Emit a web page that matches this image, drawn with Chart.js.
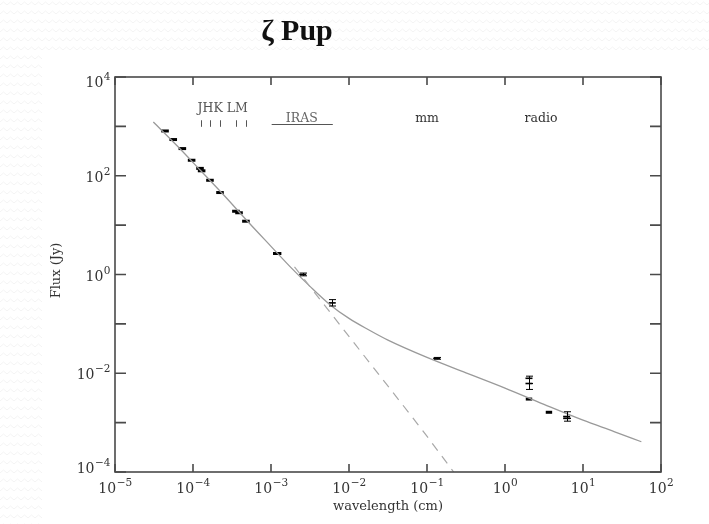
<!DOCTYPE html>
<html>
<head>
<meta charset="utf-8">
<script src="https://cdn.jsdelivr.net/npm/chart.js@4.4.0/dist/chart.umd.min.js"></script>
<style>
  html, body { margin: 0; padding: 0; }
  body {
    width: 709px; height: 524px; overflow: hidden; position: relative;
    background: #fff url("data:image/svg+xml,%3Csvg xmlns='http://www.w3.org/2000/svg' width='14' height='9'%3E%3Cpath d='M0 5 L3.5 2 L7 5 L10.5 2 L14 5' fill='none' stroke='%23f4f4f4' stroke-width='1'/%3E%3C/svg%3E") repeat;
  }
  #paper { position: absolute; left: 42px; top: 50px; right: 0; bottom: 0; background: #fff; }
  #wrap { position: absolute; left: 0; top: 0; width: 709px; height: 524px; }
</style>
</head>
<body>
<div id="paper"></div>
<div id="wrap"><canvas id="sed" width="709" height="524"></canvas></div>
<script>
// broadband photometry, wavelength in cm, flux in Jy
let photWave = [4.38e-5, 5.58e-5, 7.3e-5, 9.6e-5, 1.23e-4, 1.29e-4, 1.65e-4, 2.22e-4, 3.55e-4, 3.89e-4, 4.77e-4, 1.2e-3, 2.03, 3.66];
let photFlux = [807, 541, 355, 206, 141, 126, 81, 45.7, 19.1, 17.8, 12.0, 2.66, 0.0030, 0.00162];
let photSize = [3.8, 3.8, 3.8, 3.8, 3.8, 3.8, 3.8, 3.8, 3.8, 3.8, 3.8, 4.2, 3.2, 3.2];

// points with error bars
let errWave = [2.55e-3, 6.1e-3, 0.133, 2.03, 2.03, 6.17, 6.17];
let errFlux = [1.0, 0.266, 0.020, 0.0079, 0.0062, 0.00133, 0.00122];
let errLow  = [0.94, 0.23, 0.0192, 0.0062, 0.0047, 0.00122, 0.00107];
let errHigh = [1.07, 0.31, 0.0209, 0.00873, 0.0062, 0.00166, 0.00122];

// model: star + wind (solid) and photosphere only (dashed)
let modelWave = [3.1e-5, 6.3e-5, 1.26e-4, 2.51e-4, 5.0e-4, 1.0e-3, 1.78e-3, 3.16e-3, 5.6e-3, 0.01, 0.0178, 0.0316, 0.1, 0.316, 1, 3.16, 10, 25, 56];
let modelFlux = [1230, 400, 126, 39.8, 12.0, 3.72, 1.41, 0.575, 0.251, 0.129, 0.0759, 0.0468, 0.0209, 0.0102, 0.0050, 0.00234, 0.00112, 0.00066, 0.00041];
let photoWave = [2.0e-3, 6.3e-3, 0.0251, 0.085, 0.22];
let photoFlux = [1.43, 0.141, 0.0087, 0.00074, 0.0001];

// band markers along the top
let bandWave = [1.25e-4, 1.65e-4, 2.2e-4, 3.6e-4, 4.8e-4];
let irasRange = [1.02e-3, 6.2e-3];

let xDecades = [-5, -4, -3, -2, -1, 0, 1, 2];
let yDecades = [-4, -3, -2, -1, 0, 1, 2, 3, 4];
let yLabeled = [-4, -2, 0, 2, 4];

const serif = '"DejaVu Serif", serif';

function power(ctx, exp, px, py, align) {
  ctx.font = '14px ' + serif;
  let bw = ctx.measureText('10').width;
  let sup = String(exp).replace('-', '\u2212');
  ctx.font = '10.5px ' + serif;
  let sw = ctx.measureText(sup).width;
  let left = align == 'center' ? px - (bw + sw) / 2 : px - bw - sw;
  ctx.textAlign = 'left';
  ctx.textBaseline = 'alphabetic';
  ctx.font = '14px ' + serif;
  ctx.fillText('10', left, py);
  ctx.font = '10.5px ' + serif;
  ctx.fillText(sup, left + bw + 0.5, py - 7);
}

const decorations = {
  id: 'decorations',
  afterDatasetsDraw(chart) {
    const { ctx, chartArea: a, scales: { x, y } } = chart;
    ctx.save();
    // error bars
    ctx.strokeStyle = '#000';
    ctx.lineWidth = 1;
    errWave.forEach((w, i) => {
      let px = Math.round(x.getPixelForValue(w)) + 0.5;
      let lo = y.getPixelForValue(errLow[i]);
      let hi = y.getPixelForValue(errHigh[i]);
      ctx.beginPath();
      ctx.moveTo(px, lo); ctx.lineTo(px, hi);
      ctx.moveTo(px - 3.5, lo); ctx.lineTo(px + 3.5, lo);
      ctx.moveTo(px - 3.5, hi); ctx.lineTo(px + 3.5, hi);
      ctx.stroke();
    });

    // frame and ticks
    ctx.strokeStyle = '#4a4a4a';
    ctx.lineWidth = 1.6;
    ctx.strokeRect(a.left, a.top, a.right - a.left, a.bottom - a.top);
    ctx.beginPath();
    xDecades.forEach(d => {
      let px = x.getPixelForValue(Math.pow(10, d));
      ctx.moveTo(px, a.bottom); ctx.lineTo(px, a.bottom - 8);
      ctx.moveTo(px, a.top); ctx.lineTo(px, a.top + 8);
    });
    yDecades.forEach(d => {
      let py = y.getPixelForValue(Math.pow(10, d));
      ctx.moveTo(a.left, py); ctx.lineTo(a.left + 11, py);
      ctx.moveTo(a.right, py); ctx.lineTo(a.right - 11, py);
    });
    ctx.stroke();

    // tick labels
    ctx.fillStyle = '#333';
    xDecades.forEach(d => {
      power(ctx, d, x.getPixelForValue(Math.pow(10, d)), a.bottom + 21, 'center');
    });
    yLabeled.forEach(d => {
      let py = y.getPixelForValue(Math.pow(10, d));
      let off = d == 4 ? 10 : d == -4 ? 1 : 6;
      power(ctx, d, a.left - 5, py + off, 'right');
    });

    // axis titles
    ctx.font = '13px ' + serif;
    ctx.textAlign = 'center';
    ctx.fillText('wavelength (cm)', (a.left + a.right) / 2, a.bottom + 38);
    ctx.save();
    ctx.translate(60, (a.top + a.bottom) / 2 - 4);
    ctx.rotate(-Math.PI / 2);
    ctx.fillText('Flux (Jy)', 0, 0);
    ctx.restore();

    // band annotations
    ctx.fillStyle = '#555';
    ctx.font = '12.5px ' + serif;
    ctx.textAlign = 'left';
    ctx.fillText('JHK LM', x.getPixelForValue(bandWave[0]) - 3, y.getPixelForValue(2000));
    ctx.strokeStyle = '#555';
    ctx.lineWidth = 1;
    ctx.beginPath();
    bandWave.forEach(w => {
      let px = Math.round(x.getPixelForValue(w)) + 0.5;
      ctx.moveTo(px, y.getPixelForValue(1330)); ctx.lineTo(px, y.getPixelForValue(980));
    });
    let iy = Math.round(y.getPixelForValue(1110)) + 0.5;
    ctx.moveTo(x.getPixelForValue(irasRange[0]), iy);
    ctx.lineTo(x.getPixelForValue(irasRange[1]), iy);
    ctx.stroke();
    ctx.textAlign = 'center';
    ctx.fillStyle = '#666';
    ctx.fillText('IRAS', x.getPixelForValue(2.48e-3), y.getPixelForValue(1250));
    ctx.fillStyle = '#333';
    ctx.fillText('mm', x.getPixelForValue(0.1), y.getPixelForValue(1250));
    ctx.fillText('radio', x.getPixelForValue(2.9), y.getPixelForValue(1250));

    // title
    ctx.fillStyle = '#111';
    ctx.font = 'bold 30px "Liberation Serif", serif';
    ctx.fillText('\u03b6 Pup', 297, 40);
    ctx.restore();
  }
};

const toPts = (xs, ys) => xs.map((v, i) => ({ x: v, y: ys[i] }));

new Chart(document.getElementById('sed'), {
  type: 'scatter',
  data: {
    datasets: [
      {
        type: 'line',
        data: toPts(photoWave, photoFlux),
        borderColor: '#a8a8a8',
        borderWidth: 1.2,
        borderDash: [9, 7],
        pointRadius: 0,
        cubicInterpolationMode: 'monotone'
      },
      {
        type: 'line',
        data: toPts(modelWave, modelFlux),
        borderColor: '#9a9a9a',
        borderWidth: 1.3,
        pointRadius: 0,
        cubicInterpolationMode: 'monotone'
      },
      {
        data: toPts(photWave, photFlux),
        pointStyle: 'line',
        pointRadius: photSize,
        pointBorderWidth: 3,
        borderColor: '#000',
        backgroundColor: '#000'
      },
      {
        data: toPts(errWave, errFlux),
        pointStyle: 'line',
        pointRadius: 3.5,
        pointBorderWidth: 1.6,
        borderColor: '#000',
        backgroundColor: '#000'
      }
    ]
  },
  options: {
    responsive: false,
    animation: false,
    layout: { padding: { left: 115, right: 48, top: 77, bottom: 52 } },
    plugins: { legend: { display: false }, tooltip: { enabled: false } },
    scales: {
      x: { type: 'logarithmic', min: 1e-5, max: 1e2, display: false },
      y: { type: 'logarithmic', min: 1e-4, max: 1e4, display: false }
    }
  },
  plugins: [decorations]
});
</script>
</body>
</html>
